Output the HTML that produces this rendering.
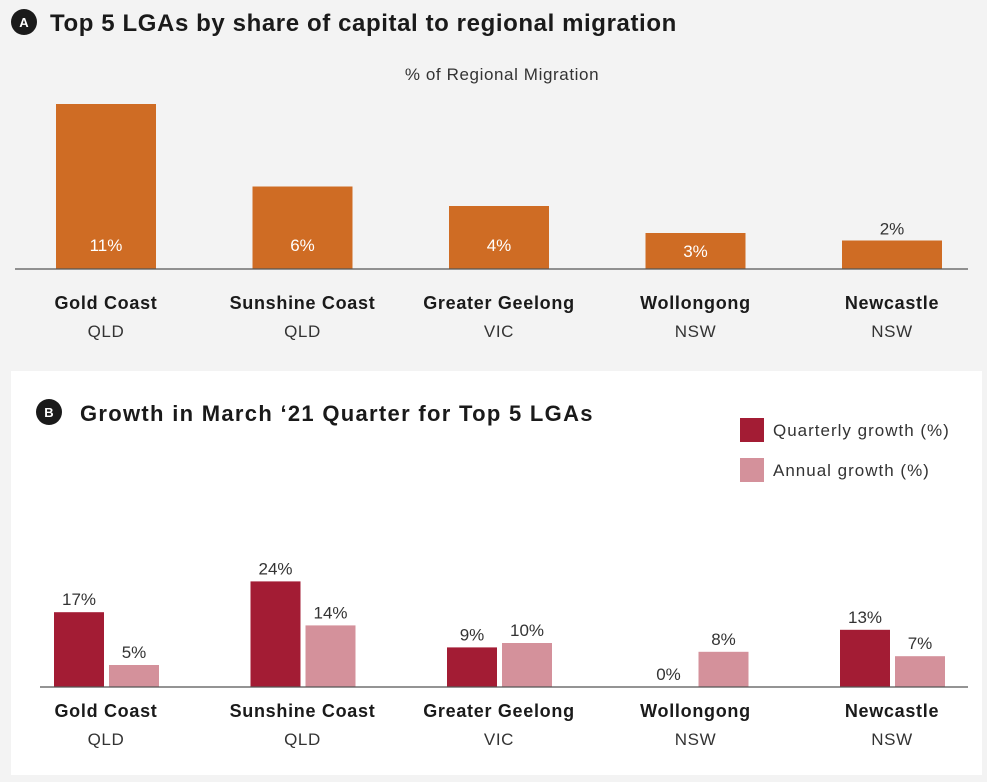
<!DOCTYPE html>
<html><head><meta charset="utf-8"><style>
body{margin:0;width:987px;height:782px;background:#f3f3f3;font-family:"Liberation Sans",sans-serif;overflow:hidden}
svg{position:absolute;left:0;top:0}
</style></head><body>
<svg width="987" height="782">
<rect x="11" y="371" width="971" height="404" fill="#fff"/>
<g>
<circle cx="24" cy="22" r="13" fill="#1a1a1a"/>
<text x="24" y="27" fill="#fff" font-size="13" font-weight="bold" text-anchor="middle">A</text>
<text x="50" y="31" fill="#1a1a1a" font-size="24" font-weight="bold" letter-spacing="0.6">Top 5 LGAs by share of capital to regional migration</text>
</g>
<text x="502" y="80" font-size="17" letter-spacing="0.6" fill="#333" text-anchor="middle">% of Regional Migration</text>
<g id="ga"></g>
<line x1="15" y1="269" x2="968" y2="269" stroke="#555" stroke-width="1.2"/>
<g>
<circle cx="49" cy="412" r="13" fill="#1a1a1a"/>
<text x="49" y="417" fill="#fff" font-size="13" font-weight="bold" text-anchor="middle">B</text>
<text x="80" y="421" fill="#1a1a1a" font-size="22" font-weight="bold" letter-spacing="1.3">Growth in March ‘21 Quarter for Top 5 LGAs</text>
</g>
<g>
<rect x="740" y="418" width="24" height="24" fill="#a31c34"/>
<text x="773" y="436" font-size="17" letter-spacing="1" fill="#333">Quarterly growth (%)</text>
<rect x="740" y="458" width="24" height="24" fill="#d4919b"/>
<text x="773" y="476" font-size="17" letter-spacing="1" fill="#333">Annual growth (%)</text>
</g>
<g id="gb"></g>
<line x1="40" y1="687" x2="968" y2="687" stroke="#555" stroke-width="1.2"/>
</svg>
<script>
const lgas=["Gold Coast","Sunshine Coast","Greater Geelong","Wollongong","Newcastle"];
const states=["QLD","QLD","VIC","NSW","NSW"];
const shareValues=[11.0,5.5,4.2,2.4,1.9];
const shareLabels=["11%","6%","4%","3%","2%"];
const quarterly=[17,24,9,0,13];
const annual=[5,14,10,8,7];
const NS="http://www.w3.org/2000/svg";
function mk(t,a,p,txt){const e=document.createElementNS(NS,t);for(const k in a)e.setAttribute(k,a[k]);if(txt!=null)e.textContent=txt;p.appendChild(e);return e;}
const ga=document.getElementById('ga'),gb=document.getElementById('gb');
const cxA=i=>106+i*196.5, yA=v=>269-v*15;
const cxB=i=>106+i*196.5, yB=v=>687-v*4.4;
lgas.forEach((n,i)=>{
 const c=cxA(i),top=yA(shareValues[i]),h=269-top;
 const b=mk('rect',{x:c-50,y:top,width:100,height:h,fill:'#cf6c24'},ga);
 
 
 let ly,col;
 if(h<32){ly=top-12;col='#333';}else{ly=Math.max(245,269-h/2);col='#fff';}
 const l=mk('text',{x:c,y:ly+6,'font-size':17,fill:col,'text-anchor':'middle'},ga,shareLabels[i]);
 
 
 const t1=mk('text',{x:c,y:309,'font-size':18,'font-weight':'bold','letter-spacing':0.7,fill:'#1a1a1a','text-anchor':'middle'},ga,n);
 
 
 const t2=mk('text',{x:c,y:337,'font-size':17,'letter-spacing':0.6,fill:'#333','text-anchor':'middle'},ga,states[i]);
 
 
 const cb=cxB(i);
 const qt=yB(quarterly[i]);
 if(quarterly[i]>0){const q=mk('rect',{x:cb-52,y:qt,width:50,height:687-qt,fill:'#a31c34'},gb);
 
 }
 const ql=mk('text',{x:cb-27,y:qt-7,'font-size':17,fill:'#333','text-anchor':'middle'},gb,quarterly[i]+'%');
 
 
 const at=yB(annual[i]);
 const a=mk('rect',{x:cb+3,y:at,width:50,height:687-at,fill:'#d4919b'},gb);
 
 
 const al=mk('text',{x:cb+28,y:at-7,'font-size':17,fill:'#333','text-anchor':'middle'},gb,annual[i]+'%');
 
 
 const b1=mk('text',{x:cb,y:717,'font-size':18,'font-weight':'bold','letter-spacing':0.7,fill:'#1a1a1a','text-anchor':'middle'},gb,n);
 
 
 const b2=mk('text',{x:cb,y:745,'font-size':17,'letter-spacing':0.6,fill:'#333','text-anchor':'middle'},gb,states[i]);
 
 
});
</script>
</body></html>
